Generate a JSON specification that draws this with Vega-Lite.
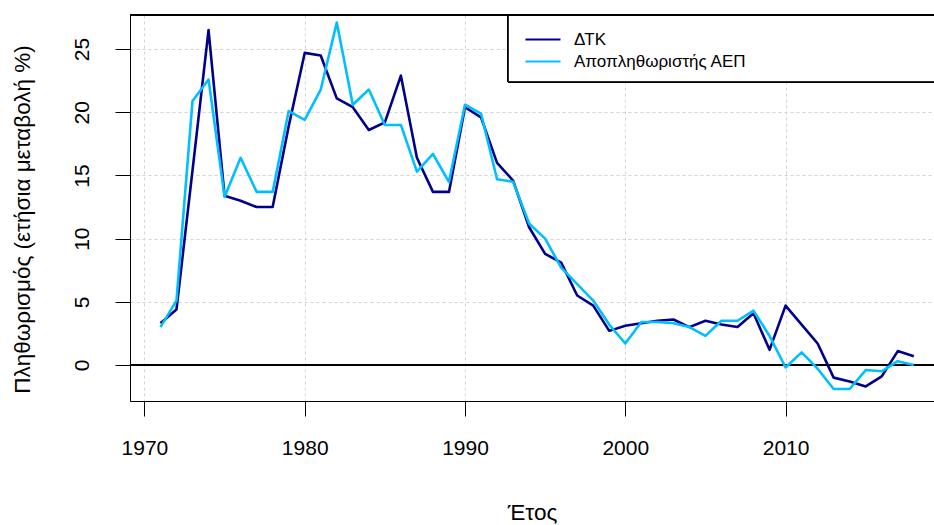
{
  "$schema": "https://vega.github.io/schema/vega-lite/v6.json",
  "width": 804,
  "height": 386,
  "autosize": {"type": "none"},
  "padding": {"left": 130, "top": 15, "right": 0, "bottom": 124},
  "background": "white",
  "config": {
    "view": {"stroke": null},
    "font": "Liberation Sans",
    "axis": {
      "domainColor": "black",
      "domainWidth": 1,
      "tickColor": "black",
      "tickWidth": 1,
      "tickSize": 15,
      "labelColor": "black",
      "labelFontSize": 21,
      "labelFlush": false,
      "labelOverlap": false,
      "titleColor": "black",
      "titleFontSize": 22.5,
      "titleFontWeight": "normal",
      "grid": true,
      "gridColor": "#D3D3D3",
      "gridDash": [3, 3],
      "gridWidth": 1
    }
  },
  "data": {
    "values": [
      {"year": 1971, "series": "ΔΤΚ", "value": 3.3},
      {"year": 1972, "series": "ΔΤΚ", "value": 4.4},
      {"year": 1973, "series": "ΔΤΚ", "value": 15.4},
      {"year": 1974, "series": "ΔΤΚ", "value": 26.5},
      {"year": 1975, "series": "ΔΤΚ", "value": 13.4},
      {"year": 1976, "series": "ΔΤΚ", "value": 13.0},
      {"year": 1977, "series": "ΔΤΚ", "value": 12.5},
      {"year": 1978, "series": "ΔΤΚ", "value": 12.5},
      {"year": 1979, "series": "ΔΤΚ", "value": 18.9},
      {"year": 1980, "series": "ΔΤΚ", "value": 24.7},
      {"year": 1981, "series": "ΔΤΚ", "value": 24.5},
      {"year": 1982, "series": "ΔΤΚ", "value": 21.1},
      {"year": 1983, "series": "ΔΤΚ", "value": 20.4},
      {"year": 1984, "series": "ΔΤΚ", "value": 18.6},
      {"year": 1985, "series": "ΔΤΚ", "value": 19.2},
      {"year": 1986, "series": "ΔΤΚ", "value": 22.9},
      {"year": 1987, "series": "ΔΤΚ", "value": 16.4},
      {"year": 1988, "series": "ΔΤΚ", "value": 13.7},
      {"year": 1989, "series": "ΔΤΚ", "value": 13.7},
      {"year": 1990, "series": "ΔΤΚ", "value": 20.4},
      {"year": 1991, "series": "ΔΤΚ", "value": 19.6},
      {"year": 1992, "series": "ΔΤΚ", "value": 16.0},
      {"year": 1993, "series": "ΔΤΚ", "value": 14.6},
      {"year": 1994, "series": "ΔΤΚ", "value": 10.9},
      {"year": 1995, "series": "ΔΤΚ", "value": 8.8},
      {"year": 1996, "series": "ΔΤΚ", "value": 8.1},
      {"year": 1997, "series": "ΔΤΚ", "value": 5.5},
      {"year": 1998, "series": "ΔΤΚ", "value": 4.7},
      {"year": 1999, "series": "ΔΤΚ", "value": 2.7},
      {"year": 2000, "series": "ΔΤΚ", "value": 3.1},
      {"year": 2001, "series": "ΔΤΚ", "value": 3.3},
      {"year": 2002, "series": "ΔΤΚ", "value": 3.5},
      {"year": 2003, "series": "ΔΤΚ", "value": 3.6},
      {"year": 2004, "series": "ΔΤΚ", "value": 3.0},
      {"year": 2005, "series": "ΔΤΚ", "value": 3.5},
      {"year": 2006, "series": "ΔΤΚ", "value": 3.2},
      {"year": 2007, "series": "ΔΤΚ", "value": 3.0},
      {"year": 2008, "series": "ΔΤΚ", "value": 4.1},
      {"year": 2009, "series": "ΔΤΚ", "value": 1.2},
      {"year": 2010, "series": "ΔΤΚ", "value": 4.7},
      {"year": 2011, "series": "ΔΤΚ", "value": 3.2},
      {"year": 2012, "series": "ΔΤΚ", "value": 1.7},
      {"year": 2013, "series": "ΔΤΚ", "value": -1.0},
      {"year": 2014, "series": "ΔΤΚ", "value": -1.3},
      {"year": 2015, "series": "ΔΤΚ", "value": -1.7},
      {"year": 2016, "series": "ΔΤΚ", "value": -0.9},
      {"year": 2017, "series": "ΔΤΚ", "value": 1.1},
      {"year": 2018, "series": "ΔΤΚ", "value": 0.7},
      {"year": 1971, "series": "Αποπληθωριστής ΑΕΠ", "value": 3.0},
      {"year": 1972, "series": "Αποπληθωριστής ΑΕΠ", "value": 5.1},
      {"year": 1973, "series": "Αποπληθωριστής ΑΕΠ", "value": 20.9},
      {"year": 1974, "series": "Αποπληθωριστής ΑΕΠ", "value": 22.6},
      {"year": 1975, "series": "Αποπληθωριστής ΑΕΠ", "value": 13.3},
      {"year": 1976, "series": "Αποπληθωριστής ΑΕΠ", "value": 16.4},
      {"year": 1977, "series": "Αποπληθωριστής ΑΕΠ", "value": 13.7},
      {"year": 1978, "series": "Αποπληθωριστής ΑΕΠ", "value": 13.7},
      {"year": 1979, "series": "Αποπληθωριστής ΑΕΠ", "value": 20.1},
      {"year": 1980, "series": "Αποπληθωριστής ΑΕΠ", "value": 19.4},
      {"year": 1981, "series": "Αποπληθωριστής ΑΕΠ", "value": 21.8},
      {"year": 1982, "series": "Αποπληθωριστής ΑΕΠ", "value": 27.1},
      {"year": 1983, "series": "Αποπληθωριστής ΑΕΠ", "value": 20.6},
      {"year": 1984, "series": "Αποπληθωριστής ΑΕΠ", "value": 21.8},
      {"year": 1985, "series": "Αποπληθωριστής ΑΕΠ", "value": 19.0},
      {"year": 1986, "series": "Αποπληθωριστής ΑΕΠ", "value": 19.0},
      {"year": 1987, "series": "Αποπληθωριστής ΑΕΠ", "value": 15.3},
      {"year": 1988, "series": "Αποπληθωριστής ΑΕΠ", "value": 16.7},
      {"year": 1989, "series": "Αποπληθωριστής ΑΕΠ", "value": 14.5},
      {"year": 1990, "series": "Αποπληθωριστής ΑΕΠ", "value": 20.6},
      {"year": 1991, "series": "Αποπληθωριστής ΑΕΠ", "value": 19.9},
      {"year": 1992, "series": "Αποπληθωριστής ΑΕΠ", "value": 14.7},
      {"year": 1993, "series": "Αποπληθωριστής ΑΕΠ", "value": 14.5},
      {"year": 1994, "series": "Αποπληθωριστής ΑΕΠ", "value": 11.2},
      {"year": 1995, "series": "Αποπληθωριστής ΑΕΠ", "value": 10.0},
      {"year": 1996, "series": "Αποπληθωριστής ΑΕΠ", "value": 7.7},
      {"year": 1997, "series": "Αποπληθωριστής ΑΕΠ", "value": 6.4},
      {"year": 1998, "series": "Αποπληθωριστής ΑΕΠ", "value": 5.1},
      {"year": 1999, "series": "Αποπληθωριστής ΑΕΠ", "value": 3.2},
      {"year": 2000, "series": "Αποπληθωριστής ΑΕΠ", "value": 1.7},
      {"year": 2001, "series": "Αποπληθωριστής ΑΕΠ", "value": 3.4},
      {"year": 2002, "series": "Αποπληθωριστής ΑΕΠ", "value": 3.4},
      {"year": 2003, "series": "Αποπληθωριστής ΑΕΠ", "value": 3.3},
      {"year": 2004, "series": "Αποπληθωριστής ΑΕΠ", "value": 3.0},
      {"year": 2005, "series": "Αποπληθωριστής ΑΕΠ", "value": 2.3},
      {"year": 2006, "series": "Αποπληθωριστής ΑΕΠ", "value": 3.5},
      {"year": 2007, "series": "Αποπληθωριστής ΑΕΠ", "value": 3.5},
      {"year": 2008, "series": "Αποπληθωριστής ΑΕΠ", "value": 4.3},
      {"year": 2009, "series": "Αποπληθωριστής ΑΕΠ", "value": 2.3},
      {"year": 2010, "series": "Αποπληθωριστής ΑΕΠ", "value": -0.2},
      {"year": 2011, "series": "Αποπληθωριστής ΑΕΠ", "value": 1.0},
      {"year": 2012, "series": "Αποπληθωριστής ΑΕΠ", "value": -0.3},
      {"year": 2013, "series": "Αποπληθωριστής ΑΕΠ", "value": -1.9},
      {"year": 2014, "series": "Αποπληθωριστής ΑΕΠ", "value": -1.9},
      {"year": 2015, "series": "Αποπληθωριστής ΑΕΠ", "value": -0.4},
      {"year": 2016, "series": "Αποπληθωριστής ΑΕΠ", "value": -0.5},
      {"year": 2017, "series": "Αποπληθωριστής ΑΕΠ", "value": 0.3},
      {"year": 2018, "series": "Αποπληθωριστής ΑΕΠ", "value": 0.0}
    ]
  },
  "layer": [
    {
      "mark": {"type": "rule", "color": "black", "strokeWidth": 1.2},
      "encoding": {
        "y": {"datum": 0, "type": "quantitative"}
      }
    },
    {
      "mark": {"type": "line", "strokeWidth": 2.6, "strokeJoin": "round", "strokeCap": "butt"},
      "encoding": {
        "x": {
          "field": "year",
          "type": "quantitative",
          "scale": {"domain": [1969.1, 2019.26], "nice": false, "zero": false},
          "axis": {
            "orient": "bottom",
            "values": [1970, 1980, 1990, 2000, 2010],
            "format": "d",
            "labelBaseline": "middle",
            "labelPadding": 32.6,
            "title": "Έτος",
            "titleX": 402,
            "titleY": 118,
            "titleAlign": "center",
            "titleBaseline": "alphabetic"
          }
        },
        "y": {
          "field": "value",
          "type": "quantitative",
          "scale": {"domain": [-2.85, 27.7], "nice": false, "zero": false},
          "axis": {
            "values": [0, 5, 10, 15, 20, 25],
            "labelAngle": -90,
            "labelAlign": "center",
            "labelBaseline": "middle",
            "labelPadding": 32.5,
            "title": "Πληθωρισμός (ετήσια μεταβολή %)",
            "titleAngle": -90,
            "titleX": -101,
            "titleY": 204,
            "titleAlign": "center",
            "titleBaseline": "alphabetic"
          }
        },
        "color": {
          "field": "series",
          "type": "nominal",
          "sort": ["ΔΤΚ", "Αποπληθωριστής ΑΕΠ"],
          "scale": {"domain": ["ΔΤΚ", "Αποπληθωριστής ΑΕΠ"], "range": ["#00008B", "#00BFFF"]},
          "legend": {
            "orient": "none",
            "legendX": 404.5,
            "legendY": 16,
            "title": null,
            "symbolType": "M-3.5,0H3.5",
            "symbolSize": 100,
            "symbolStrokeWidth": 2,
            "labelFontSize": 17,
            "labelColor": "black",
            "labelOffset": 22.5,
            "labelLimit": 400,
            "rowPadding": 4,
            "padding": 0
          }
        }
      }
    },
    {
      "mark": {"type": "rect", "fill": "white", "stroke": "black", "strokeWidth": 1, "clip": true},
      "encoding": {
        "x": {"datum": 1992.7, "type": "quantitative"},
        "x2": {"datum": 2030},
        "y": {"datum": 22.42, "type": "quantitative"},
        "y2": {"datum": 27.7}
      }
    },
    {
      "mark": {"type": "rule", "color": "black", "strokeWidth": 1},
      "encoding": {
        "y": {"datum": 27.7, "type": "quantitative"}
      }
    }
  ]
}
